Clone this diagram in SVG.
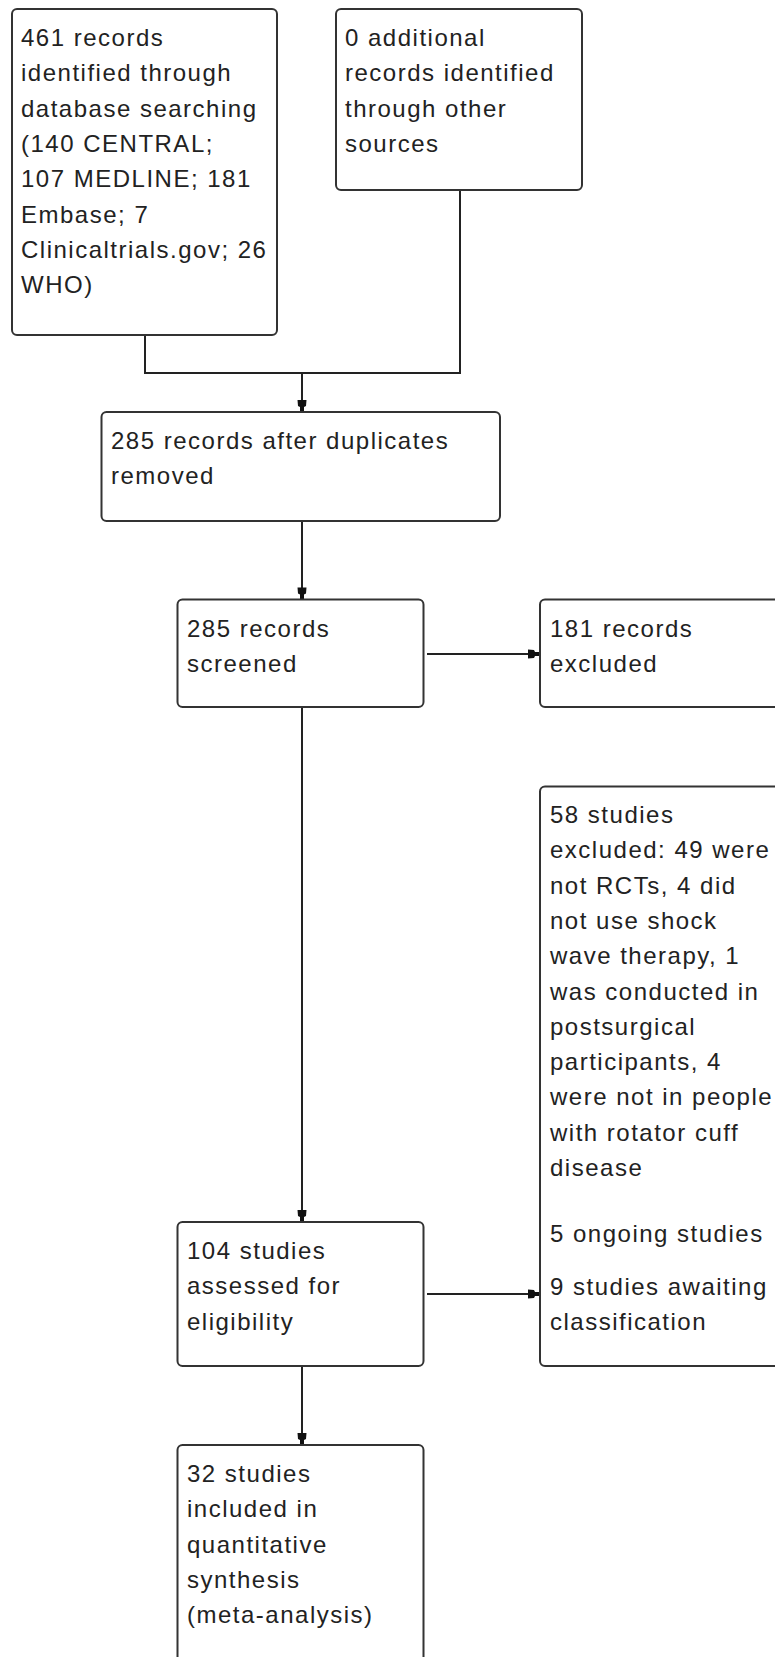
<svg xmlns="http://www.w3.org/2000/svg" width="775" height="1657" viewBox="0 0 775 1657">
<style>
.box{fill:#fff;stroke:#333;stroke-width:2}
.t{font-family:"Liberation Sans",Arial,sans-serif;font-size:24px;letter-spacing:1.5px;fill:#222}
.ln{fill:none;stroke:#222;stroke-width:2}
</style>
<defs>
<marker id="ah" viewBox="-13 -6 14 12" markerWidth="14" markerHeight="12" refX="0" refY="0" orient="auto" markerUnits="userSpaceOnUse">
<path d="M-12,-4.5 L-6,-4 L-5,-2 L0,-2 L0,2 L-5,2 L-6,4 L-12,4.5 Z" fill="#111"/>
</marker>
</defs>
<rect width="775" height="1657" fill="#fff"/>
<g id="connectors">
<path class="ln" d="M145,335 V373 H460 V190"/>
<path class="ln" d="M302,373 V412" marker-end="url(#ah)"/>
<path class="ln" d="M302,521 V599.5" marker-end="url(#ah)"/>
<path class="ln" d="M427,654 H540" marker-end="url(#ah)"/>
<path class="ln" d="M302,707 V1222" marker-end="url(#ah)"/>
<path class="ln" d="M427,1294 H540" marker-end="url(#ah)"/>
<path class="ln" d="M302,1366 V1445" marker-end="url(#ah)"/>
</g>
<g id="n1">
<rect class="box" x="12" y="9" width="265" height="326" rx="5"/>
<text class="t" x="21"><tspan x="21" y="46">461 records</tspan><tspan x="21" y="81.3">identified through</tspan><tspan x="21" y="116.6">database searching</tspan><tspan x="21" y="151.9">(140 CENTRAL;</tspan><tspan x="21" y="187.2">107 MEDLINE; 181</tspan><tspan x="21" y="222.5">Embase; 7</tspan><tspan x="21" y="257.8">Clinicaltrials.gov; 26</tspan><tspan x="21" y="293.1">WHO)</tspan></text>
</g>
<g id="n2">
<rect class="box" x="336" y="9" width="246" height="181" rx="5"/>
<text class="t"><tspan x="345" y="46">0 additional</tspan><tspan x="345" y="81.3">records identified</tspan><tspan x="345" y="116.6">through other</tspan><tspan x="345" y="151.9">sources</tspan></text>
</g>
<g id="n3">
<rect class="box" x="101.5" y="412" width="398.5" height="109" rx="5"/>
<text class="t"><tspan x="111" y="449">285 records after duplicates</tspan><tspan x="111" y="484.3">removed</tspan></text>
</g>
<g id="n4">
<rect class="box" x="177.5" y="599.5" width="246" height="107.5" rx="5"/>
<text class="t"><tspan x="187" y="636.5">285 records</tspan><tspan x="187" y="671.8">screened</tspan></text>
</g>
<g id="n5">
<rect class="box" x="540" y="599.5" width="250" height="107.5" rx="5"/>
<text class="t"><tspan x="550" y="636.5">181 records</tspan><tspan x="550" y="671.8">excluded</tspan></text>
</g>
<g id="n7">
<rect class="box" x="540" y="786.5" width="250" height="579.5" rx="5"/>
<text class="t"><tspan x="550" y="823">58 studies</tspan><tspan x="550" y="858.3">excluded: 49 were</tspan><tspan x="550" y="893.6">not RCTs, 4 did</tspan><tspan x="550" y="928.9">not use shock</tspan><tspan x="550" y="964.2">wave therapy, 1</tspan><tspan x="550" y="999.5">was conducted in</tspan><tspan x="550" y="1034.8">postsurgical</tspan><tspan x="550" y="1070.1">participants, 4</tspan><tspan x="550" y="1105.4">were not in people</tspan><tspan x="550" y="1140.7">with rotator cuff</tspan><tspan x="550" y="1176">disease</tspan><tspan x="550" y="1241.5">5 ongoing studies</tspan><tspan x="550" y="1294.5">9 studies awaiting</tspan><tspan x="550" y="1329.8">classification</tspan></text>
</g>
<g id="n6">
<rect class="box" x="177.5" y="1222" width="246" height="144" rx="5"/>
<text class="t"><tspan x="187" y="1259">104 studies</tspan><tspan x="187" y="1294.3">assessed for</tspan><tspan x="187" y="1329.6">eligibility</tspan></text>
</g>
<g id="n8">
<rect class="box" x="177.5" y="1445" width="246" height="230" rx="5"/>
<text class="t"><tspan x="187" y="1482">32 studies</tspan><tspan x="187" y="1517.3">included in</tspan><tspan x="187" y="1552.6">quantitative</tspan><tspan x="187" y="1587.9">synthesis</tspan><tspan x="187" y="1623.2">(meta-analysis)</tspan></text>
</g>
</svg>
